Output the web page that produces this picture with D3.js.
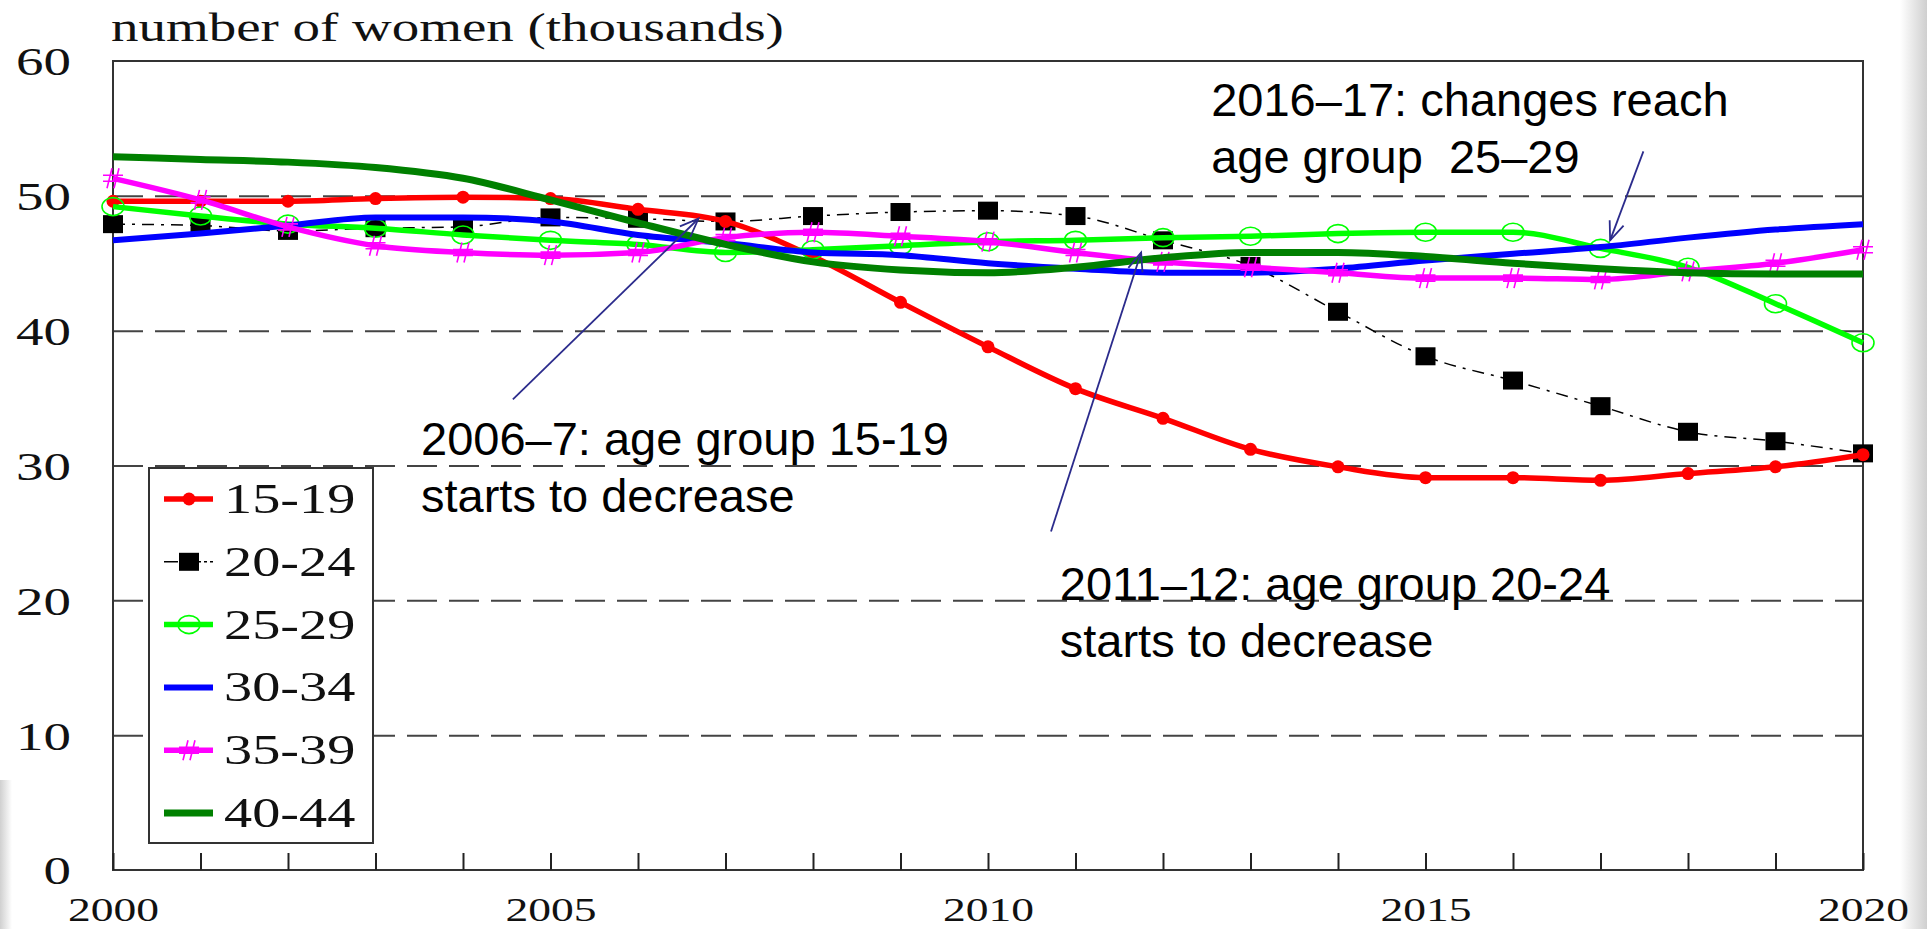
<!DOCTYPE html>
<html>
<head>
<meta charset="utf-8">
<script src="https://cdn.jsdelivr.net/npm/d3@7"></script>
<style>
  body { margin: 0; background: #fff; overflow: hidden; }
</style>
</head>
<body>
<svg></svg>
<script>
// data (thousands of women)
let years = [2000, 2001, 2002, 2003, 2004, 2005, 2006, 2007, 2008, 2009, 2010,
             2011, 2012, 2013, 2014, 2015, 2016, 2017, 2018, 2019, 2020]
let groups = ['15-19', '20-24', '25-29', '30-34', '35-39', '40-44']

let age1519 = [49.6, 49.6, 49.6, 49.8, 49.9, 49.8, 49.0, 48.1, 45.5, 42.1, 38.8,
               35.7, 33.5, 31.2, 29.9, 29.1, 29.1, 28.9, 29.4, 29.9, 30.8]
let age2024 = [47.9, 47.8, 47.4, 47.6, 47.7, 48.4, 48.3, 48.1, 48.5, 48.8, 48.9,
               48.5, 46.7, 44.8, 41.4, 38.1, 36.3, 34.4, 32.5, 31.8, 30.9]
let age2529 = [49.2, 48.5, 47.9, 47.6, 47.1, 46.7, 46.4, 45.8, 46.0, 46.3, 46.6,
               46.7, 46.9, 47.0, 47.2, 47.3, 47.3, 46.1, 44.7, 42.0, 39.1]
let age3034 = [46.7, 47.2, 47.8, 48.4, 48.4, 48.1, 47.1, 46.5, 45.8, 45.6, 45.0,
               44.6, 44.3, 44.3, 44.6, 45.2, 45.7, 46.2, 46.9, 47.5, 47.9]
let age3539 = [51.3, 49.7, 47.7, 46.3, 45.8, 45.6, 45.8, 46.9, 47.3, 47.0, 46.6,
               45.8, 45.1, 44.7, 44.3, 43.9, 43.9, 43.8, 44.4, 45.0, 46.0]
let age4044 = [52.9, 52.7, 52.5, 52.1, 51.3, 49.7, 48.0, 46.4, 45.1, 44.5, 44.3,
               44.7, 45.4, 45.8, 45.8, 45.5, 45.0, 44.6, 44.3, 44.2, 44.2]

let yTicks = [0, 10, 20, 30, 40, 50, 60]
let gridValues = [10, 20, 30, 40, 50]
let xLabelYears = [2000, 2005, 2010, 2015, 2020]

let notes = [
  { lines: ['2006\u20137: age group 15-19', 'starts to decrease'], year: 2003.52, value: 30.8,
    from: [2004.57, 34.9], to: [2006.69, 48.3] },
  { lines: ['2011\u201312: age group 20-24', 'starts to decrease'], year: 2010.82, value: 20.0,
    from: [2010.72, 25.1], to: [2011.75, 45.8] },
  { lines: ['2016\u201317: changes reach', 'age group  25\u201329'], year: 2012.55, value: 55.9,
    from: [2017.49, 53.3], to: [2017.11, 46.7] }
]

let seriesValues = [age2024, age1519, age2529, age3034, age3539, age4044]
let seriesNames = ['20-24', '15-19', '25-29', '30-34', '35-39', '40-44']

// styles
let styles = {
  '15-19': { color: '#ff0000', width: 5.5, marker: 'dot' },
  '20-24': { color: '#000000', width: 1.5, marker: 'square', dash: '12,7,3,7' },
  '25-29': { color: '#00ff00', width: 5.5, marker: 'ring' },
  '30-34': { color: '#0000ff', width: 6, marker: null },
  '35-39': { color: '#ff00ff', width: 5.5, marker: 'hash' },
  '40-44': { color: '#008000', width: 7, marker: null }
}

let width = 1927
let height = 929
let plotLeft = 113, plotRight = 1863, plotTop = 61, plotBottom = 870
let sx = 1.34   // the serif text in the picture is drawn wide
let serif = '"Liberation Serif", "Times New Roman", serif'
let sans = '"Liberation Sans", Arial, sans-serif'

let svg = d3.select('svg').attr('width', width).attr('height', height)

let xScale = d3.scaleLinear().domain([2000, 2020]).range([plotLeft, plotRight])
let yScale = d3.scaleLinear().domain([0, 60]).range([plotBottom, plotTop])

let serifText = (sel, size) => sel
  .style('font-family', serif).style('font-size', size + 'px')
  .attr('fill', '#111')

// faint grey edges of the scan
let defs = svg.append('defs')
let gr = defs.append('linearGradient').attr('id', 'edgeR').attr('x1', 0).attr('x2', 1)
gr.append('stop').attr('offset', 0).attr('stop-color', '#fff')
gr.append('stop').attr('offset', 1).attr('stop-color', '#cfcfcf')
let gl = defs.append('linearGradient').attr('id', 'edgeL').attr('x1', 1).attr('x2', 0)
gl.append('stop').attr('offset', 0).attr('stop-color', '#fff')
gl.append('stop').attr('offset', 1).attr('stop-color', '#d0d0d0')
svg.append('rect').attr('x', 1900).attr('y', 0).attr('width', 27).attr('height', height).attr('fill', 'url(#edgeR)')
svg.append('rect').attr('x', 0).attr('y', 780).attr('width', 12).attr('height', height - 780).attr('fill', 'url(#edgeL)')

// dashed grid
let grid = svg.append('g')
  .attr('transform', 'translate(' + plotLeft + ',0)')
  .call(d3.axisLeft(yScale).tickValues(gridValues).tickSize(-(plotRight - plotLeft)).tickFormat(''))
grid.select('.domain').remove()
grid.selectAll('line').attr('stroke', '#444').attr('stroke-width', 2).attr('stroke-dasharray', '30,12')

// frame
svg.append('rect')
  .attr('x', plotLeft).attr('y', plotTop)
  .attr('width', plotRight - plotLeft).attr('height', plotBottom - plotTop)
  .attr('fill', 'none').attr('stroke', '#333').attr('stroke-width', 2)

// year ticks pointing up
let xTicks = svg.append('g')
  .attr('transform', 'translate(0,' + plotBottom + ')')
  .call(d3.axisBottom(xScale).tickValues(years).tickSizeInner(-17).tickSizeOuter(0).tickFormat(''))
xTicks.select('.domain').remove()
xTicks.selectAll('line').attr('stroke', '#222').attr('stroke-width', 2)

// year labels
let xLabels = svg.append('g')
  .attr('transform', 'translate(0,' + plotBottom + ')')
  .call(d3.axisBottom(xScale).tickValues(xLabelYears).tickSize(0).tickPadding(28).tickFormat(d3.format('d')))
xLabels.select('.domain').remove()
xLabels.selectAll('text')
  .call(serifText, 33)
  .attr('transform', 'scale(' + (sx + 0.04) + ',1)')

// value labels
let yLabels = svg.append('g')
  .attr('transform', 'translate(' + plotLeft + ',0)')
  .call(d3.axisLeft(yScale).tickValues(yTicks).tickSize(0))
yLabels.select('.domain').remove()
yLabels.selectAll('text')
  .call(serifText, 41)
  .attr('x', -42 / sx).attr('dy', '0.34em')
  .attr('transform', 'scale(' + sx + ',1)')

// title
svg.append('text')
  .attr('transform', 'translate(111,41) scale(' + sx + ',1)')
  .call(serifText, 41)
  .text('number of women (thousands)')

// marker drawing
let drawMarker = (g, kind, color) => {
  if (kind === 'dot') {
    g.append('circle').attr('r', 6.5).attr('fill', color)
  } else if (kind === 'square') {
    g.append('rect').attr('x', -10).attr('y', -9).attr('width', 20).attr('height', 18).attr('fill', color)
  } else if (kind === 'ring') {
    g.append('ellipse').attr('rx', 11).attr('ry', 9).attr('fill', 'none').attr('stroke', color).attr('stroke-width', 1.6)
  } else if (kind === 'hash') {
    g.append('path').attr('d', 'M-10,-3H10M-10,3H10M-1,-10L-6,10M6,-10L1,10')
      .attr('fill', 'none').attr('stroke', color).attr('stroke-width', 1.6)
  }
}

let line = d3.line()
  .x((d, i) => xScale(years[i]))
  .y((d) => yScale(d))
  .curve(d3.curveMonotoneX)

seriesValues.forEach((vals, k) => {
  let st = styles[seriesNames[k]]
  let g = svg.append('g').attr('class', 'series')
  g.append('path')
    .datum(vals)
    .attr('d', line)
    .attr('fill', 'none')
    .attr('stroke', st.color)
    .attr('stroke-width', st.width)
    .attr('stroke-dasharray', st.dash || null)
  if (st.marker) {
    g.selectAll('g.mk')
      .data(vals)
      .enter()
      .append('g')
      .attr('class', 'mk')
      .attr('transform', (d, i) => 'translate(' + xScale(years[i]) + ',' + yScale(d) + ')')
      .each(function () { drawMarker(d3.select(this), st.marker, st.color) })
  }
})

// annotations
let navy = '#2b2b8c'
notes.forEach((n) => {
  let t = svg.append('text')
    .attr('x', xScale(n.year)).attr('y', yScale(n.value))
    .style('font-family', sans).style('font-size', '47px').style('white-space', 'pre')
    .attr('fill', '#000')
  n.lines.forEach((s, i) => {
    t.append('tspan').attr('x', xScale(n.year)).attr('dy', i === 0 ? 0 : 57).text(s)
  })
  let x1 = xScale(n.from[0]), y1 = yScale(n.from[1])
  let x2 = xScale(n.to[0]), y2 = yScale(n.to[1])
  svg.append('line').attr('x1', x1).attr('y1', y1).attr('x2', x2).attr('y2', y2)
    .attr('stroke', navy).attr('stroke-width', 1.8)
  let ang = Math.atan2(y2 - y1, x2 - x1)
  let len = 20, spread = 0.38
  let p = [ang + Math.PI - spread, ang + Math.PI + spread].map((a) => [x2 + len * Math.cos(a), y2 + len * Math.sin(a)])
  svg.append('path')
    .attr('d', 'M' + p[0] + 'L' + x2 + ',' + y2 + 'L' + p[1])
    .attr('fill', 'none').attr('stroke', navy).attr('stroke-width', 1.8)
})

// legend
let legend = svg.append('g').attr('transform', 'translate(149,468)')
legend.append('rect').attr('width', 224).attr('height', 375)
  .attr('fill', '#fff').attr('stroke', '#333').attr('stroke-width', 2)
let legendY = d3.scalePoint().domain(groups).range([31, 345])
groups.forEach((name) => {
  let st = styles[name]
  let gy = legendY(name)
  let row = legend.append('g').attr('transform', 'translate(0,' + gy + ')')
  row.append('line').attr('x1', 15).attr('x2', 64).attr('y1', 0).attr('y2', 0)
    .attr('stroke', st.color).attr('stroke-width', st.width)
    .attr('stroke-dasharray', st.dash ? '14,3,3,3' : null)
  if (st.marker) drawMarker(row.append('g').attr('transform', 'translate(40,0)'), st.marker, st.color)
  row.append('text')
    .attr('transform', 'translate(75,14) scale(' + sx + ',1)')
    .call(serifText, 42)
    .text(name)
})
</script>
</body>
</html>
